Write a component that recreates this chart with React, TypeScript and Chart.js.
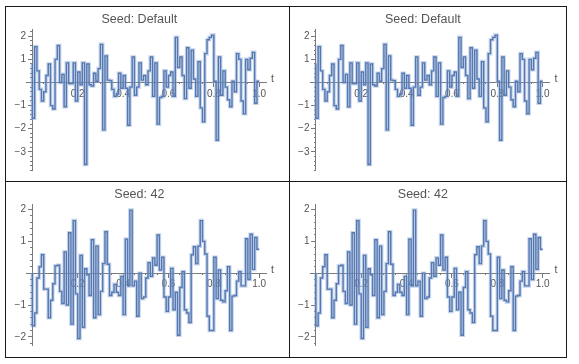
import React, { useEffect, useRef } from 'react';
import { Chart, registerables } from 'chart.js';

Chart.register(...registerables);

// ---- data ----
const T_STEP = 0.01;
const X_MIN = -0.025;
const X_MAX = 1.03;
const AXIS_LABEL = 't';
const TITLE_DEFAULT = 'Seed: Default';
const TITLE_42 = 'Seed: 42';

// white-noise path, default seed (t = 0, 0.01, ..., 1.0)
const seedDefaultValues = [
  0.82, -1.55, 1.55, 0.5, -0.3, -0.8, -0.4, 0.3, 0.8, -1.0,
  -1.15, 1.0, 1.6, 0.0, 0.35, -1.05, 0.85, -0.05, -0.05, 0.85,
  -0.8, 0.45, -0.1, 0.85, -3.55, 0.8, -0.1, -0.15, 0.4, 0.05,
  0.6, 1.65, -2.05, 1.15, 0.1, 0.08, -0.3, -0.6, -0.5, 0.4,
  -0.25, 0.3, -0.25, -1.85, -0.2, 1.1, -0.55, -0.2, 0.85, 0.1,
  0.3, -0.1, 0.5, 1.1, -0.6, 0.85, -1.8, -0.65, -0.6, 0.5,
  -0.2, 0.3, 0.45, -0.6, 1.95, 0.65, 1.1, 0.3, -0.7, 1.5,
  -0.25, 1.4, 0.15, -0.6, 0.9, -1.1, -1.7, 1.25, 1.85, 1.95,
  2.05, 0.05, -2.5, 1.1, -0.55, 0.5, -0.2, -0.75, -1.05, 0.05,
  -0.4, 1.25, 1.0, -0.8, -1.35, 1.0, 0.55, 1.05, 1.3, -0.9,
  0.05,
];

// white-noise path, seed 42
const seed42Values = [
  0.0, -1.65, -1.25, -0.15, 0.2, 0.58, -0.5, -0.5, -1.4, -0.85,
  -0.33, 0.23, 0.25, -0.57, -0.95, 0.67, -1.0, 1.27, -1.6, 1.65,
  -0.65, -2.05, 0.56, -1.7, 0.14, -0.05, -0.7, 1.05, -1.4, 0.85,
  -1.3, -0.57, 0.3, 1.3, 0.28, -0.7, -0.6, -0.35, -0.6, -0.7,
  -0.1, -1.3, 1.07, -0.4, 1.98, -0.4, -0.25, -1.35, 0.0, -0.8,
  -0.75, -0.15, 0.33, -0.1, 0.48, 0.25, 1.2, 0.1, 0.5, -0.75,
  -1.2, -0.75, 0.15, -1.15, -0.6, -1.95, -0.45, 0.05, -1.15, -1.25,
  -1.55, 0.58, 0.83, 0.3, 0.85, 1.65, 1.0, 0.6, -1.35, -1.8,
  -1.8, 0.5, -0.8, 0.1, -0.85, -0.9, -0.55, 0.2, -1.8, -0.72,
  -0.7, -0.25, 0.05, -0.4, -0.4, 1.08, -0.2, 1.22, 0.12, 1.12,
  0.75,
];

const FONT = "'Liberation Sans', Arial, sans-serif";
const LINE_COLOR = '#5678b0';
const HALO_COLOR = 'rgba(140,170,215,0.5)';
const AXIS_COLOR = '#7a7a7a';
const TEXT_COLOR = '#555555';
const Y_LABEL_BOX = 14;

const fmtY = (v: number) => {
  if (Math.abs(v) < 1e-9 || Math.abs(v - Math.round(v)) > 1e-6) return '';
  const r = Math.round(v);
  return r < 0 ? '\u2212' + Math.abs(r) : String(r);
};
const fmtX = (v: number) => (Math.abs(v) < 1e-9 ? '' : v.toFixed(1));

const tLabelPlugin = {
  id: 'tLabel',
  afterDatasetsDraw(chart: any) {
    const { ctx, chartArea } = chart;
    const y0 = chart.scales.y.getPixelForValue(0);
    ctx.save();
    ctx.font = `10.5px ${FONT}`;
    ctx.fillStyle = TEXT_COLOR;
    ctx.textAlign = 'left';
    ctx.textBaseline = 'middle';
    ctx.fillText(AXIS_LABEL, chartArea.right + 5, y0 - 3);
    ctx.restore();
  },
};

type Spec = {
  title: string;
  values: number[];
  left: number;
  top: number;
  width: number;
  height: number;
  yMin: number;
  yMax: number;
  padL: number;
  padR: number;
  padB: number;
  titleTop: number;
  titleBottom: number;
};

function Panel({ spec }: { spec: Spec }) {
  const ref = useRef<HTMLCanvasElement>(null);
  useEffect(() => {
    const pts = spec.values.map((v, i) => ({ x: i * T_STEP, y: v }));
    const minorTick = () => '';
    const chart = new Chart(ref.current as HTMLCanvasElement, {
      type: 'line',
      data: {
        datasets: [
          {
            data: pts,
            stepped: 'after',
            borderColor: LINE_COLOR,
            borderWidth: 1.4,
            pointRadius: 0,
            fill: false,
            xAxisID: 'x',
            yAxisID: 'y',
          },
          {
            data: pts,
            stepped: 'after',
            borderColor: HALO_COLOR,
            borderWidth: 3.6,
            pointRadius: 0,
            fill: false,
            xAxisID: 'x',
            yAxisID: 'y',
          },
        ],
      },
      options: {
        animation: false,
        responsive: false,
        devicePixelRatio: 1,
        layout: { padding: { left: spec.padL - Y_LABEL_BOX, right: spec.padR, top: 0, bottom: spec.padB } },
        plugins: {
          legend: { display: false },
          tooltip: { enabled: false },
          title: {
            display: true,
            text: spec.title,
            color: TEXT_COLOR,
            font: { family: FONT, size: 12.5, weight: 'normal', lineHeight: 1.2 },
            padding: { top: spec.titleTop, bottom: spec.titleBottom },
          },
        },
        scales: {
          x: {
            type: 'linear',
            min: X_MIN,
            max: X_MAX,
            position: { y: 0 },
            ticks: {
              stepSize: 0.2,
              includeBounds: false,
              autoSkip: false,
              maxRotation: 0,
              padding: 1.5,
              color: TEXT_COLOR,
              font: { family: FONT, size: 10 },
              callback: (v: any) => fmtX(Number(v)),
            },
            grid: { drawOnChartArea: false, tickLength: 4, color: AXIS_COLOR },
            border: { display: true, color: AXIS_COLOR, width: 1 },
          },
          xm: {
            type: 'linear',
            axis: 'x',
            min: X_MIN,
            max: X_MAX,
            position: { y: 0 },
            ticks: { stepSize: 0.05, includeBounds: false, autoSkip: false, maxTicksLimit: 1000, callback: minorTick },
            grid: { drawOnChartArea: false, tickLength: 2, color: AXIS_COLOR },
            border: { display: false },
          },
          // y axis line with major tick marks, crossing at t = 0
          y: {
            type: 'linear',
            min: spec.yMin,
            max: spec.yMax,
            position: { x: 0 },
            ticks: { stepSize: 1, includeBounds: false, autoSkip: false, callback: minorTick },
            grid: { drawOnChartArea: false, tickLength: 4, color: AXIS_COLOR },
            border: { display: true, color: AXIS_COLOR, width: 1 },
          },
          // minor y tick marks
          ym: {
            type: 'linear',
            axis: 'y',
            min: spec.yMin,
            max: spec.yMax,
            position: { x: 0 },
            ticks: { stepSize: 0.2, includeBounds: false, autoSkip: false, maxTicksLimit: 1000, callback: minorTick },
            grid: { drawOnChartArea: false, tickLength: 2, color: AXIS_COLOR },
            border: { display: false },
          },
          // y tick labels
          yl: {
            type: 'linear',
            axis: 'y',
            min: spec.yMin,
            max: spec.yMax,
            position: 'left',
            ticks: {
              stepSize: 1,
              includeBounds: false,
              autoSkip: false,
              padding: 0.7,
              color: TEXT_COLOR,
              font: { family: FONT, size: 10 },
              callback: (v: any) => fmtY(Number(v)),
            },
            grid: { display: false, drawTicks: false, drawOnChartArea: false },
            border: { display: false },
            afterFit: (scale: any) => {
              scale.width = Y_LABEL_BOX;
            },
          },
        },
      } as any,
      plugins: [tLabelPlugin],
    });
    return () => chart.destroy();
  }, []);
  return (
    <canvas
      ref={ref}
      width={spec.width}
      height={spec.height}
      style={{ position: 'absolute', left: spec.left, top: spec.top, width: spec.width, height: spec.height }}
    />
  );
}

const panels: Spec[] = [
  { title: TITLE_DEFAULT, values: seedDefaultValues, left: 7, top: 8, width: 278, height: 173, yMin: -3.82, yMax: 2.3, padL: 19.7, padR: 19, padB: 6, titleTop: 4.5, titleBottom: 1.8 },
  { title: TITLE_DEFAULT, values: seedDefaultValues, left: 290, top: 8, width: 278, height: 173, yMin: -3.82, yMax: 2.3, padL: 20.2, padR: 18.5, padB: 6, titleTop: 4.5, titleBottom: 1.8 },
  { title: TITLE_42, values: seed42Values, left: 7, top: 183, width: 278, height: 173, yMin: -2.28, yMax: 2.15, padL: 19.7, padR: 19, padB: 5.7, titleTop: 4.2, titleBottom: 2.5 },
  { title: TITLE_42, values: seed42Values, left: 290, top: 183, width: 278, height: 173, yMin: -2.28, yMax: 2.15, padL: 20.2, padR: 18.5, padB: 5.7, titleTop: 4.2, titleBottom: 2.5 },
];

const lineStyle = (l: number, t: number, w: number, h: number): React.CSSProperties => ({
  position: 'absolute', left: l, top: t, width: w, height: h, background: '#1a1a1a', zIndex: 2,
});

export default function App() {
  return (
    <div style={{ position: 'absolute', left: 0, top: 0, width: 579, height: 364, background: '#ffffff', overflow: 'hidden' }}>
      {panels.map((p, i) => (
        <Panel key={i} spec={p} />
      ))}
      <div style={lineStyle(5, 6, 562, 1)} />
      <div style={lineStyle(5, 357, 562, 1)} />
      <div style={lineStyle(5, 181, 562, 1)} />
      <div style={lineStyle(5, 6, 1, 352)} />
      <div style={lineStyle(289, 6, 1, 352)} />
      <div style={lineStyle(566, 6, 1, 352)} />
    </div>
  );
}
